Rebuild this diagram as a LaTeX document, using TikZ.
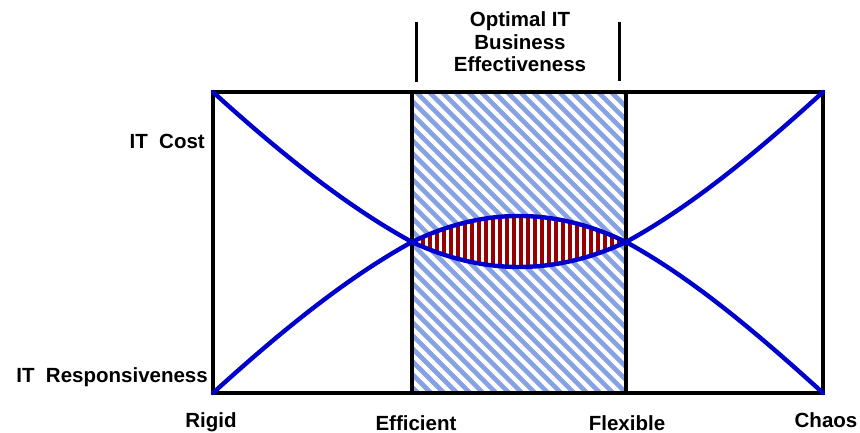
\documentclass[tikz,border=0pt]{standalone}
\usepackage{fontspec}
\setmainfont{Liberation Sans}
\definecolor{curveblue}{RGB}{0,0,204}
\definecolor{hatchblue}{RGB}{135,162,228}
\definecolor{lensred}{RGB}{150,0,0}
\begin{document}
\begin{tikzpicture}[x=1pt,y=-1pt,
  lbl/.style={font=\fontsize{20.5}{24}\selectfont\bfseries, inner sep=0pt},
  frame/.style={line width=3.3pt, black},
  curve/.style={line width=4.4pt, curveblue, line cap=round},
  bar/.style={line width=3pt, black}]
\useasboundingbox (0,0) rectangle (860,433);
\fill[white] (0,0) rectangle (860,433);
% corners and crossings
\coordinate (TL) at (213,92);
\coordinate (TR) at (823,92);
\coordinate (BL) at (213,393);
\coordinate (BR) at (823,393);
\coordinate (ITL) at (412,92);
\coordinate (IBR) at (626,393);
\coordinate (IL) at (412,242);
\coordinate (IR) at (626,242);
% blue diagonal hatch in the middle band
\begin{scope}
  \clip (ITL) rectangle (IBR);
  \foreach \c in {-545,-532,...,-5}
    \draw[hatchblue, line width=4.6pt] (400,400+\c) -- (640,640+\c);
\end{scope}
% lens with red vertical stripes
\begin{scope}
  \path[fill=white] (IL) .. controls (483.3,207.3) and (554.7,207.3) .. (IR)
        .. controls (554.7,275.3) and (483.3,275.3) .. (IL) -- cycle;
  \clip (IL) .. controls (483.3,207.3) and (554.7,207.3) .. (IR)
        .. controls (554.7,275.3) and (483.3,275.3) .. (IL) -- cycle;
  \foreach \x in {416,423,...,626}
    \draw[lensred, line width=4pt] (\x,200) -- (\x,285);
\end{scope}
% frames
\draw[frame] (TL) rectangle (BR);
\draw[frame] (ITL) rectangle (IBR);
% curves
\draw[curve] (TL) .. controls (279,152) and (346,206) .. (IL)
   .. controls (483.3,275.3) and (554.7,275.3) .. (IR)
   .. controls (692,206) and (757,152) .. (TR);
\draw[curve] (BL) .. controls (279,333) and (346,278) .. (IL)
   .. controls (483.3,207.3) and (554.7,207.3) .. (IR)
   .. controls (692,278) and (757,333) .. (BR);
% bracket bars
\draw[bar] (416,22) -- (416,82);
\draw[bar] (619,22) -- (619,81);
% title
\node[lbl, anchor=base] (t1) at (520,27) {Optimal IT};
\node[lbl, anchor=base] (t2) at (520,50) {Business};
\node[lbl, anchor=base] (t3) at (520,72) {Effectiveness};
% side labels
\node[lbl, anchor=base east] (cost) at (205,149) {IT\ \ Cost};
\node[lbl, anchor=base east] (resp) at (208,382) {IT\ \ Responsiveness};
% bottom labels
\node[lbl, anchor=base] (rigid) at (211,427) {Rigid};
\node[lbl, anchor=base] (eff) at (416,430) {Efficient};
\node[lbl, anchor=base] (flex) at (627,430) {Flexible};
\node[lbl, anchor=base] (chaos) at (826,427) {Chaos};
\end{tikzpicture}
\end{document}
